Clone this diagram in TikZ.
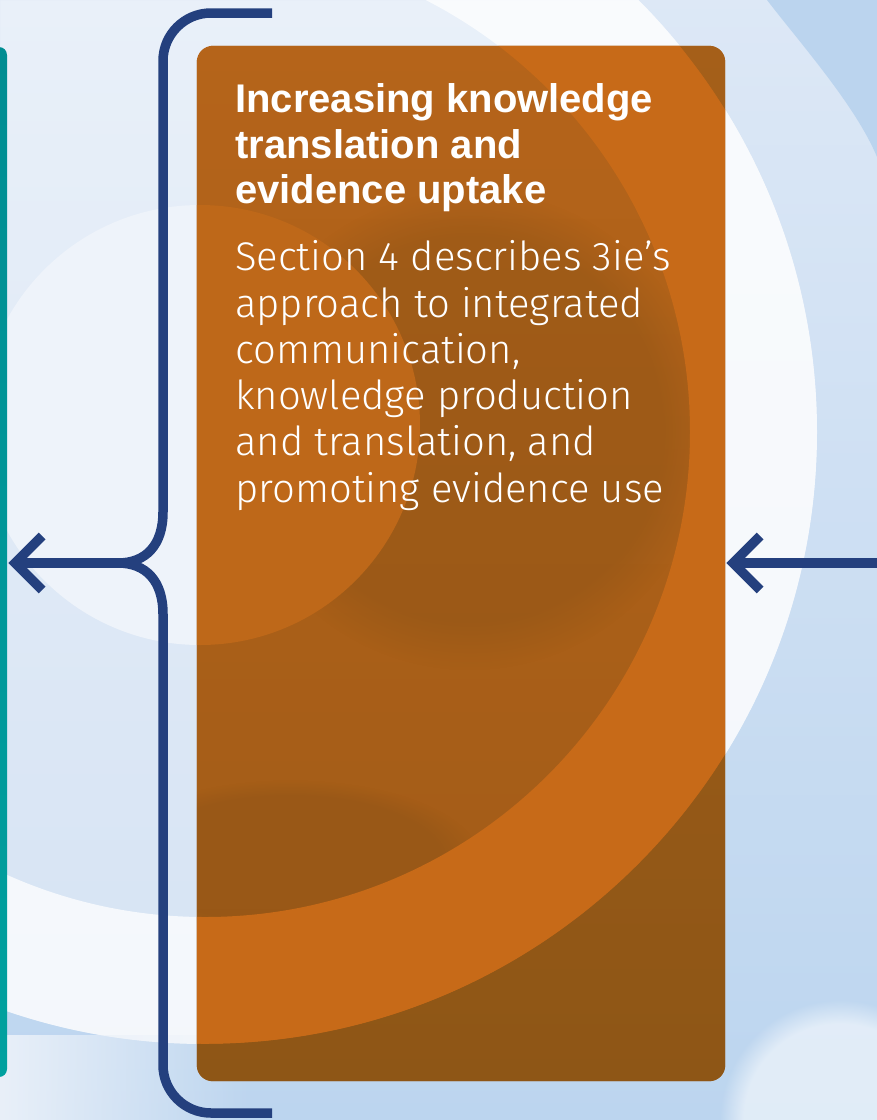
\documentclass[tikz,border=0pt]{standalone}
\usepackage{fontspec}
\setmainfont{Liberation Sans}
\newfontfamily\bodyfont{Fira Sans Light}
\usetikzlibrary{fadings,calc}
\definecolor{navy}{HTML}{24407E}
\definecolor{bgTop}{HTML}{E9F0F9}
\definecolor{bgBot}{HTML}{D4E2F3}
\definecolor{blueTop}{HTML}{E2EBF7}
\definecolor{blueMid}{HTML}{BBD4EE}
\definecolor{blueBot}{HTML}{BCD5EF}
\definecolor{diskLight}{HTML}{EEF3FA}
\definecolor{tealTop}{HTML}{008D92}
\definecolor{tealBot}{HTML}{00A19F}
\definecolor{orTop}{HTML}{B5641A}
\definecolor{orBot}{HTML}{A05B17}
\definecolor{orDark}{HTML}{8C5316}
\definecolor{orDisk}{HTML}{BE6819}
\definecolor{orRing}{HTML}{C76A18}
\definecolor{orOutTop}{HTML}{AA611A}
\definecolor{orOutBot}{HTML}{8E5616}
\tikzset{
  bracestyle/.style={draw=navy, line width=9.5pt, line join=round},
  shaft/.style={draw=navy, line width=9.5pt},
  chevron/.style={draw=navy, line width=9.5pt, line join=miter},
  tealbar/.style={rectangle, rounded corners=8pt, minimum width=40pt, minimum height=1030pt, inner sep=0pt, top color=tealTop, bottom color=tealBot, draw=none},
  cardbox/.style={rectangle, minimum width=528pt, minimum height=1035pt, inner sep=0pt},
  headline/.style={anchor=base west, inner sep=0pt, text=white, font=\fontsize{40}{46}\selectfont\bfseries},
  bodyline/.style={anchor=base west, inner sep=0pt, text=white, font=\fontsize{40}{46}\selectfont\bodyfont},
}
\begin{document}
\begin{tikzpicture}[x=1pt,y=-1pt]
\useasboundingbox (0,0) rectangle (877,1120);
% ---------- background ----------
\begin{scope}
\clip (0,0) rectangle (877,1120);
\shade[top color=bgTop, bottom color=bgBot] (0,0) rectangle (877,1120);
\shade[top color=blueTop, middle color=blueMid, bottom color=blueBot, even odd rule]
  (0,0) rectangle (877,1120) (205,432) circle (612pt);
\fill[blueMid] (767,0) .. controls (800,43) and (856,106) .. (877,157) -- (877,0) -- cycle;
\fill[white, opacity=0.75, even odd rule] (205,432) circle (612pt) (205,432) circle (485pt);
\fill[diskLight] (200,425) circle (220pt);
\fill[bgTop, path fading=east] (0,1035) rectangle (250,1120);
\fill[white, opacity=0.55, path fading=circle with fuzzy edge 20 percent] (840,1120) circle (120pt);
\end{scope}
% ---------- teal bar ----------
\node[tealbar] (teal) at (-13,562) {};
% ---------- orange card ----------
\node[cardbox] (box) at (461,563.5) {};
\begin{scope}
\clip[rounded corners=16pt] (box.south west) rectangle (box.north east);
\shade[top color=orTop, bottom color=orBot] (box.south west) rectangle (box.north east);
\fill[orDark, opacity=0.45, path fading=circle with fuzzy edge 20 percent] (470,430) circle (240pt);
\fill[orDark, opacity=0.45, path fading=circle with fuzzy edge 20 percent] (290,860) ellipse (190pt and 80pt);
\fill[orDisk] (200,425) circle (220pt);
\fill[orRing, even odd rule] (205,432) circle (612pt) (205,432) circle (485pt);
\shade[top color=orOutTop, bottom color=orOutBot, even odd rule]
  (box.south west) rectangle (box.north east) (205,432) circle (612pt);
\end{scope}
% ---------- text ----------
\node[headline] (t1) at (235,112) {Increasing knowledge};
\node[headline] (t2) at (235,158) {translation and};
\node[headline] (t3) at (235,203) {evidence uptake};
\node[bodyline] (b1) at (235,270) {Section 4 describes 3ie’s};
\node[bodyline] (b2) at (235,317) {approach to integrated};
\node[bodyline] (b3) at (235,363) {communication,};
\node[bodyline] (b4) at (235,409) {knowledge production};
\node[bodyline] (b5) at (235,455) {and translation, and};
\node[bodyline] (b6) at (235,502) {promoting evidence use};
% ---------- brace and arrows ----------
\coordinate (btop) at (272,13);
\coordinate (bbot) at (272,1113);
\coordinate (cusp) at (118,563);
\coordinate (ltip) at ($(teal.east |- cusp)+(8,0)$);
\coordinate (rsrc) at (877,563);
\coordinate (rtip) at ($(box.east |- rsrc)+(8,0)$);
\draw[bracestyle] (btop) -- (211,13) .. controls (184.5,13) and (163,34.5) .. (163,61)
  -- (163,512) .. controls (163,545) and (146,563) .. (cusp)
  .. controls (146,563) and (163,581) .. (163,614)
  -- (163,1065) .. controls (163,1091.5) and (184.5,1113) .. (211,1113) -- (bbot);
\draw[shaft] (cusp) -- (ltip);
\draw[chevron] ($(ltip)+(27,-27)$) -- (ltip) -- ($(ltip)+(27,27)$);
\draw[shaft] (rsrc) -- (rtip);
\draw[chevron] ($(rtip)+(27,-27)$) -- (rtip) -- ($(rtip)+(27,27)$);
\end{tikzpicture}
\end{document}
